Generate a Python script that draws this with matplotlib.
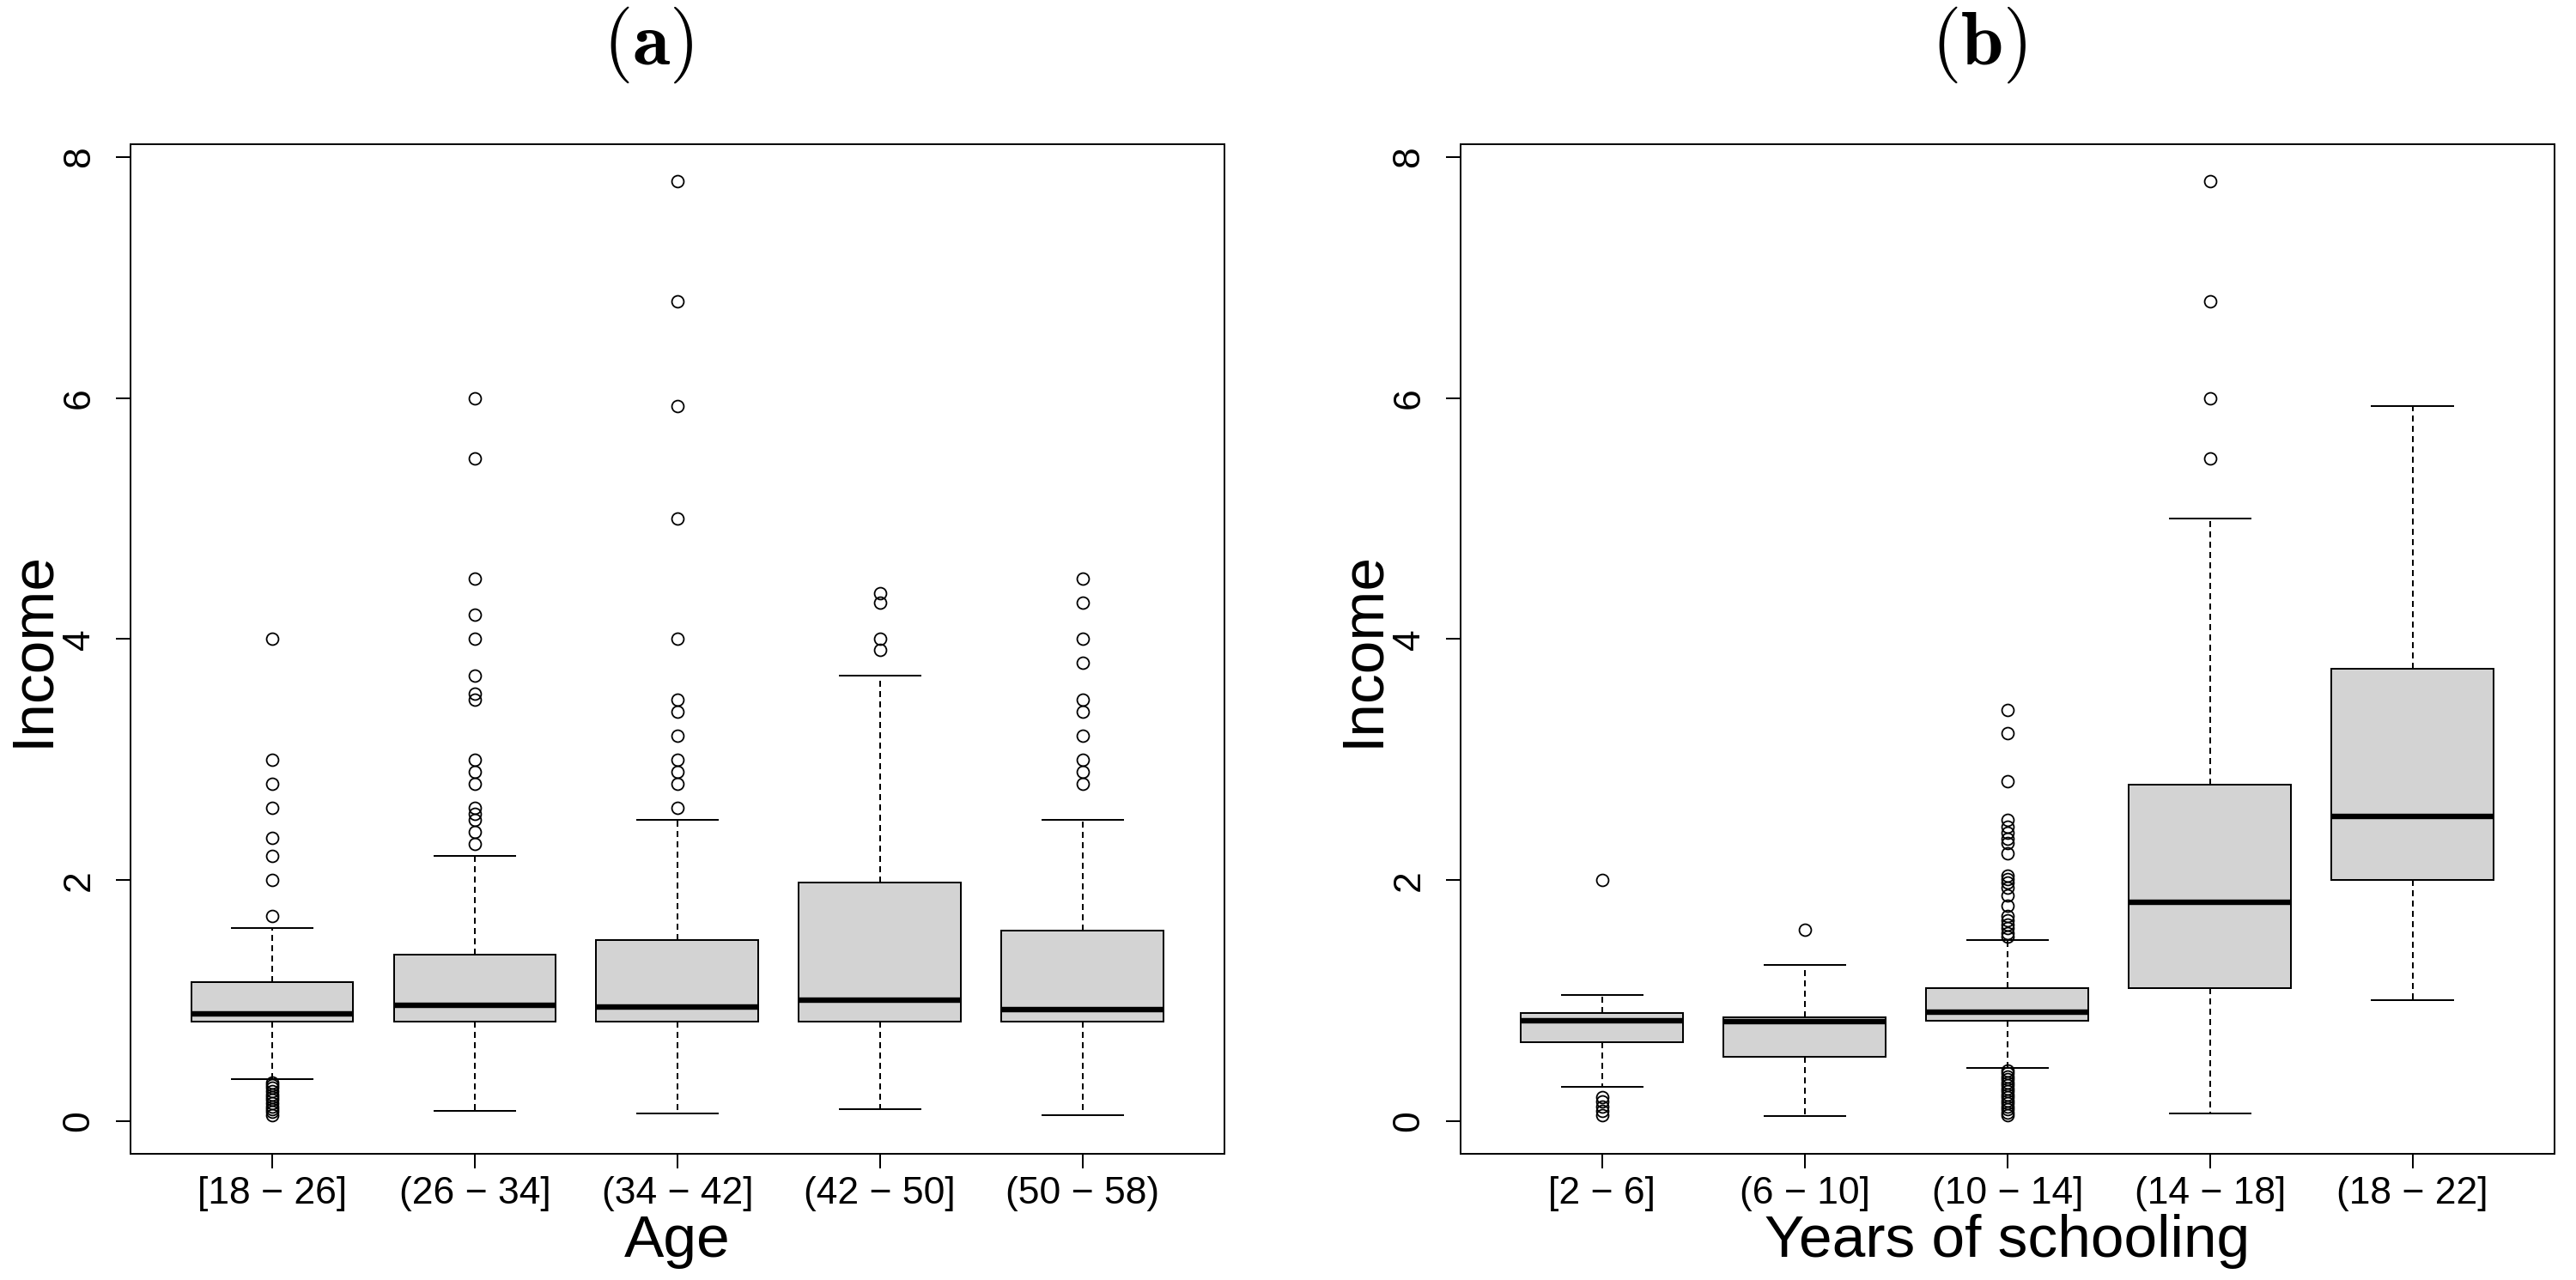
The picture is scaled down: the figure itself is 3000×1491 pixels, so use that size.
import matplotlib
matplotlib.use("Agg")
import matplotlib.pyplot as plt

plt.rcParams['font.family'] = ['Liberation Sans', 'DejaVu Sans']
plt.rcParams['mathtext.fontset'] = 'cm'

# panel (a): income by age group
age_labels = ['[18 \u2212 26]', '(26 \u2212 34]', '(34 \u2212 42]', '(42 \u2212 50]', '(50 \u2212 58)']
age_q1 = [0.824, 0.824, 0.824, 0.824, 0.824]
age_med = [0.892, 0.96, 0.95, 1.006, 0.926]
age_q3 = [1.153, 1.38, 1.50, 1.977, 1.585]
age_lo = [0.347, 0.085, 0.068, 0.097, 0.05]
age_hi = [1.602, 2.2, 2.5, 3.70, 2.5]
age_fliers = [
    [1.70, 2.0, 2.2, 2.35, 2.6, 2.8, 3.0, 4.0,
     0.32, 0.30, 0.28, 0.25, 0.22, 0.20, 0.18, 0.15, 0.12, 0.10, 0.08, 0.05],
    [2.30, 2.40, 2.50, 2.55, 2.60, 2.80, 2.90, 3.00, 3.50, 3.55, 3.70,
     4.00, 4.20, 4.50, 5.50, 6.00],
    [2.6, 2.8, 2.9, 3.0, 3.2, 3.4, 3.5, 4.0, 5.0, 5.93, 6.8, 7.8],
    [3.91, 4.0, 4.30, 4.38],
    [2.8, 2.9, 3.0, 3.2, 3.4, 3.5, 3.8, 4.0, 4.3, 4.5],
]

# panel (b): income by years of schooling
school_labels = ['[2 \u2212 6]', '(6 \u2212 10]', '(10 \u2212 14]', '(14 \u2212 18]', '(18 \u2212 22]']
school_q1 = [0.653, 0.534, 0.833, 1.102, 2.0]
school_med = [0.835, 0.83, 0.905, 1.818, 2.528]
school_q3 = [0.898, 0.864, 1.106, 2.795, 3.756]
school_lo = [0.284, 0.04, 0.44, 0.068, 1.006]
school_hi = [1.05, 1.30, 1.50, 5.0, 5.93]
school_fliers = [
    [2.0, 0.2, 0.165, 0.125, 0.085, 0.05],
    [1.59],
    [1.53, 1.56, 1.60, 1.63, 1.67, 1.70, 1.79, 1.87, 1.94, 1.98, 2.01, 2.04,
     2.22, 2.31, 2.34, 2.39, 2.44, 2.50, 2.82, 3.22, 3.41,
     0.42, 0.40, 0.37, 0.35, 0.32, 0.30, 0.27, 0.25, 0.22, 0.20, 0.17,
     0.15, 0.12, 0.10, 0.07, 0.05],
    [5.5, 6.0, 6.8, 7.8],
    [],
]

yticks = [0, 2, 4, 6, 8]


def draw_panel(ax, labels, q1, med, q3, lo, hi, fliers, xlabel):
    stats = []
    for i in range(len(labels)):
        stats.append({'q1': q1[i], 'med': med[i], 'q3': q3[i],
                      'whislo': lo[i], 'whishi': hi[i], 'fliers': fliers[i]})
    ax.bxp(stats, positions=range(1, len(labels) + 1), widths=0.8,
           patch_artist=True, showfliers=True,
           boxprops=dict(facecolor='#d3d3d3', edgecolor='black', linewidth=1.44),
           medianprops=dict(color='black', linewidth=4.6, solid_capstyle='butt'),
           whiskerprops=dict(color='black', linewidth=1.44, linestyle=(0, (3.5, 2.5))),
           capprops=dict(color='black', linewidth=1.44),
           flierprops=dict(marker='o', markersize=10, markerfacecolor='none',
                           markeredgecolor='black', markeredgewidth=1.3, linestyle='none'))
    ax.set_xlim(0.3, len(labels) + 0.7)
    ax.set_ylim(-0.268, 8.107)
    ax.set_xticks(range(1, len(labels) + 1))
    ax.set_xticklabels(labels, fontsize=32)
    ax.set_yticks(yticks)
    ax.set_yticklabels([str(v) for v in yticks], fontsize=32, rotation=90, va='center')
    ax.tick_params(axis='x', length=12.2, width=1.44, pad=7)
    ax.tick_params(axis='y', length=12.2, width=1.44, pad=16)
    for sp in ax.spines.values():
        sp.set_linewidth(1.44)
    ax.set_ylabel('Income', fontsize=50)
    ax.yaxis.set_label_coords(-0.064, 0.5)
    ax.set_xlabel(xlabel, fontsize=50)
    ax.xaxis.set_label_coords(0.5, -0.060)


fig = plt.figure(figsize=(30, 14.91), dpi=100)
ax1 = fig.add_axes([0.0506, 0.0988, 0.4247, 0.7887])
ax2 = fig.add_axes([0.5669, 0.0988, 0.4247, 0.7887])

draw_panel(ax1, age_labels, age_q1, age_med, age_q3, age_lo, age_hi, age_fliers, 'Age')
draw_panel(ax2, school_labels, school_q1, school_med, school_q3, school_lo, school_hi,
           school_fliers, 'Years of schooling')

fig.text(0.2517, 0.9497, r'$\mathbf{(a)}$', fontsize=64, ha='center', va='baseline')
fig.text(0.7683, 0.9497, r'$\mathbf{(b)}$', fontsize=64, ha='center', va='baseline')

fig.savefig('out.png', dpi=100, facecolor='white')
